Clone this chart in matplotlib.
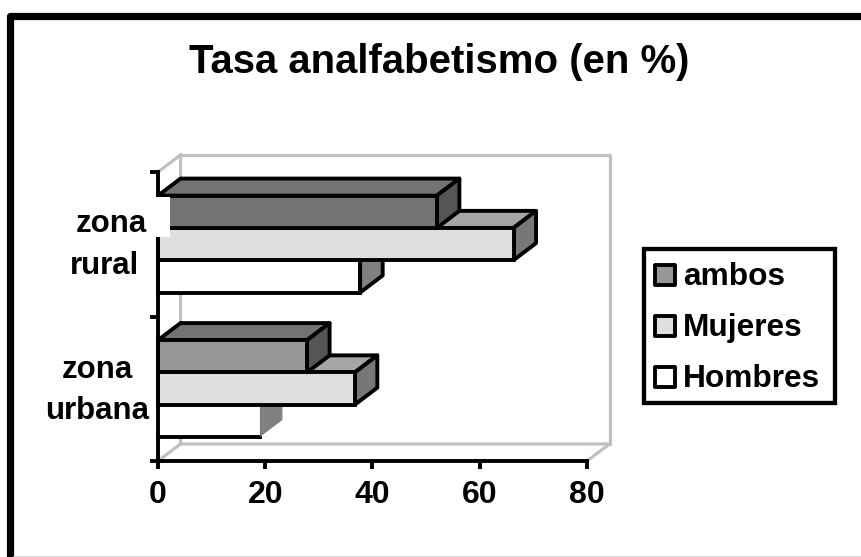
import matplotlib
matplotlib.use('Agg')
import matplotlib.pyplot as plt
from matplotlib.lines import Line2D
from matplotlib.patches import Polygon, Rectangle

plt.rcParams['font.family'] = ['Liberation Sans', 'DejaVu Sans']
plt.rcParams['font.weight'] = 'bold'

W, H = 862, 557

zonas = ['zona\nurbana', 'zona\nrural']
series = ['Hombres', 'Mujeres', 'ambos']
hombres = [19, 37.7]
mujeres = [36.7, 66.3]
ambos = [27.8, 52]
valores = [hombres, mujeres, ambos]

# front, top and side colours per series, ambos rural prints darker
frentes = [['#ffffff', '#dfdfdf', '#969696'], ['#ffffff', '#dfdfdf', '#737373']]
techos = ['#a6a6a6', '#a6a6a6', '#737373']
lados = ['#808080', '#777777', '#555555']
colores_leyenda = ['#ffffff', '#dfdfdf', '#969696']

BAR_H = 0.2235
GAP = 0.166
DX = 4.2    # depth of the 3d effect in data units
DY = 0.118
LW = 2.8


def figbox(x0, y0, x1, y1):
    # pixel box (y down) to figure fraction
    return [x0 / W, 1 - y1 / H, (x1 - x0) / W, (y1 - y0) / H]


fig = plt.figure(figsize=(W / 100, H / 100), dpi=100, facecolor='white')
ax = fig.add_axes(figbox(158, 172, 587, 461))
ax.set_xlim(0, 80)
ax.set_ylim(0, 2)
ax.patch.set_alpha(0)

# back walls
grey = dict(color='#c0c0c0', lw=2.3, clip_on=False, zorder=1, solid_joinstyle='round')
ax.plot([0, DX, DX], [0, DY, 2 + DY], **grey)
ax.plot([0, DX], [2, 2 + DY], **grey)
ax.plot([DX, 84.2, 84.2], [2 + DY, 2 + DY, DY], **grey)
ax.plot([DX, 84.2, 80], [DY, DY, 0], **grey)

for i in range(len(zonas)):
    for j in range(len(series)):
        v = valores[j][i]
        y0 = i + GAP + j * BAR_H
        y1 = y0 + BAR_H
        # urban hombres has a side without outline in the source
        sin_borde = i == 0 and j == 0
        edge = dict(edgecolor='black', lw=LW, joinstyle='round', clip_on=False)
        ax.add_patch(Polygon([(0, y1), (DX, y1 + DY), (v + DX, y1 + DY), (v, y1)],
                             facecolor=techos[j], zorder=3 + j, **edge))
        if sin_borde:
            ax.barh(y0, v, height=BAR_H, align='edge', color=frentes[i][j], lw=0, zorder=3 + j)
            ax.plot([0, v], [y0, y0], color='black', lw=LW, zorder=3 + j, clip_on=False)
            ax.add_patch(Polygon([(v, y0), (v + DX, y0 + DY), (v + DX, y1), (v, y1)],
                                 facecolor=lados[j], edgecolor='none', zorder=3 + j))
        else:
            ax.add_patch(Polygon([(v, y0), (v + DX, y0 + DY), (v + DX, y1 + DY), (v, y1)],
                                 facecolor=lados[j], zorder=3 + j, **edge))
            ax.barh(y0, v, height=BAR_H, align='edge', color=frentes[i][j],
                    edgecolor='black', lw=LW, zorder=3 + j, clip_on=False)

for s in ['top', 'right']:
    ax.spines[s].set_visible(False)
for s in ['left', 'bottom']:
    ax.spines[s].set_linewidth(LW)
    ax.spines[s].set_zorder(8)
ax.set_xticks([0, 20, 40, 60, 80])
ax.set_yticks([0, 1, 2])
ax.set_yticklabels([])
ax.tick_params(axis='x', length=6, width=LW, labelsize=23, pad=8)
ax.tick_params(axis='y', length=6, width=LW)

# white box left behind the rural label, it hides axis and bar
fig.add_artist(Rectangle((72 / W, 1 - 237 / H), 98 / W, 40 / H, facecolor='white',
                         edgecolor='none', zorder=9, transform=fig.transFigure))

fig.text(111 / W, 1 - 224 / H, 'zona', fontsize=22.5, ha='center', va='center', zorder=10)
fig.text(104.5 / W, 1 - 266 / H, 'rural', fontsize=22.5, ha='center', va='center', zorder=10)
fig.text(97 / W, 1 - 370 / H, 'zona', fontsize=22.5, ha='center', va='center', zorder=10)
fig.text(97.5 / W, 1 - 411 / H, 'urbana', fontsize=22.5, ha='center', va='center', zorder=10)

fig.text(439 / W, 1 - 62 / H, 'Tasa analfabetismo (en %)', fontsize=28.9,
         ha='center', va='center')

# legend, reversed order like the source
fig.add_artist(Rectangle((644 / W, 1 - 403 / H), 191 / W, 154 / H, facecolor='white',
                         edgecolor='black', lw=LW + 0.3, transform=fig.transFigure))
for nombre, color, yy in zip(series[::-1], colores_leyenda[::-1], [275, 326, 377]):
    fig.add_artist(Rectangle((654.5 / W, 1 - (yy + 10) / H), 20 / W, 20 / H, facecolor=color,
                             edgecolor='black', lw=LW, joinstyle='round', transform=fig.transFigure))
    fig.text(683 / W, 1 - (yy + 2) / H, nombre, fontsize=22.8, ha='left', va='center')

# outer frame, open at the right and bottom of the crop
frame = dict(color='black', lw=5.2, transform=fig.transFigure, solid_capstyle='round')
fig.add_artist(Line2D([10.5 / W, 10.5 / W, 870 / W], [-10 / H, 1 - 15.5 / H, 1 - 15.5 / H], **frame))
fig.add_artist(Line2D([14 / W, 1], [1 - 556.5 / H, 1 - 556.5 / H], color='#d0d0d0', lw=1.2,
                      transform=fig.transFigure))

fig.savefig('out.png', dpi=100)
